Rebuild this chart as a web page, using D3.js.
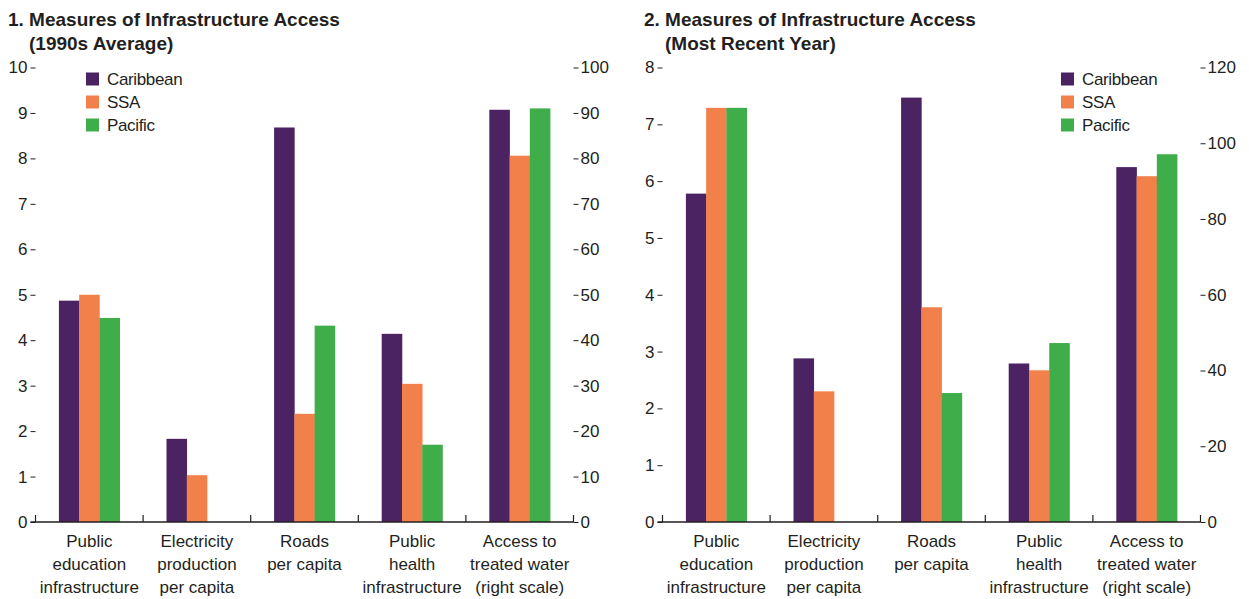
<!DOCTYPE html>
<html>
<head>
<meta charset="utf-8">
<script src="https://cdn.jsdelivr.net/npm/d3@7"></script>
<style>
  html, body { margin: 0; padding: 0; background: #ffffff; }
  svg { display: block; }
  text { font-family: "Liberation Sans", Arial, sans-serif; fill: #231f20; }
</style>
</head>
<body>
<svg id="chart" width="1249" height="599"></svg>
<script>
// ---------- DATA ----------
const categories = [
  ["Public", "education", "infrastructure"],
  ["Electricity", "production", "per capita"],
  ["Roads", "per capita"],
  ["Public", "health", "infrastructure"],
  ["Access to", "treated water", "(right scale)"]
];
const seriesNames = ["Caribbean", "SSA", "Pacific"];

// Panel 1: 1990s average (last category on right scale)
const p1Caribbean = [4.87, 1.83, 8.68, 4.14, 90.7];
const p1SSA       = [5.00, 1.03, 2.38, 3.04, 80.6];
const p1Pacific   = [4.49, null, 4.32, 1.70, 91.0];

// Panel 2: most recent year (last category on right scale)
const p2Caribbean = [5.78, 2.88, 7.47, 2.79, 93.7];
const p2SSA       = [7.29, 2.30, 3.78, 2.67, 91.3];
const p2Pacific   = [7.29, null, 2.27, 3.15, 97.1];

const p1LeftTicks  = [0,1,2,3,4,5,6,7,8,9,10];
const p1RightTicks = [0,10,20,30,40,50,60,70,80,90,100];
const p2LeftTicks  = [0,1,2,3,4,5,6,7,8];
const p2RightTicks = [0,20,40,60,80,100,120];

const p1Title = ["1. Measures of Infrastructure Access", "(1990s Average)"];
const p2Title = ["2. Measures of Infrastructure Access", "(Most Recent Year)"];

const colors = ["#4b2262", "#f2804a", "#3fae4a"];

// ---------- DRAW ----------
const svg = d3.select("#chart");

const panels = [
  { x0: 35.5, title: p1Title, titleX: 8, legendX: 86,
    series: [p1Caribbean, p1SSA, p1Pacific],
    leftMax: 10, rightMax: 100, leftTicks: p1LeftTicks, rightTicks: p1RightTicks },
  { x0: 662.5, title: p2Title, titleX: 644, legendX: 1061,
    series: [p2Caribbean, p2SSA, p2Pacific],
    leftMax: 8, rightMax: 120, leftTicks: p2LeftTicks, rightTicks: p2RightTicks }
];

const plotW = 538, yTop = 67.5, yBot = 522;

panels.forEach(p => {
  const g = svg.append("g");
  const x = d3.scaleBand().domain(d3.range(categories.length)).range([p.x0, p.x0 + plotW]).paddingInner(0).paddingOuter(0);
  const groupW = x.bandwidth() * 0.565;
  const x1 = d3.scaleBand().domain(d3.range(seriesNames.length)).range([0, groupW]).padding(0);
  const yL = d3.scaleLinear().domain([0, p.leftMax]).range([yBot, yTop]);
  const yR = d3.scaleLinear().domain([0, p.rightMax]).range([yBot, yTop]);
  const last = categories.length - 1;

  // title
  g.append("text").attr("x", p.titleX).attr("y", 25.5)
    .attr("font-size", 19).attr("font-weight", "bold").text(p.title[0]);
  g.append("text").attr("x", p.titleX + 21).attr("y", 49.5)
    .attr("font-size", 19).attr("font-weight", "bold").text(p.title[1]);

  // bars
  p.series.forEach((vals, si) => {
    vals.forEach((v, ci) => {
      if (v === null || v === undefined) return;
      const ys = ci === last ? yR : yL;
      const gx = x(ci) + (x.bandwidth() - groupW) / 2;
      g.append("rect")
        .attr("x", gx + x1(si))
        .attr("width", x1.bandwidth() + 0.3)
        .attr("y", ys(v))
        .attr("height", yBot - ys(v))
        .attr("fill", colors[si]);
    });
  });

  // left axis
  const la = d3.axisLeft(yL).tickValues(p.leftTicks).tickSize(5).tickPadding(3).tickFormat(d3.format("d"));
  const lg = g.append("g").attr("transform", `translate(${p.x0},0)`).call(la);
  lg.select(".domain").remove();
  lg.selectAll("line").attr("stroke", "#231f20").attr("stroke-width", 1);
  lg.selectAll("text").attr("font-size", 17).attr("font-family", "Liberation Sans, Arial, sans-serif").attr("fill", "#231f20");

  // right axis
  const ra = d3.axisRight(yR).tickValues(p.rightTicks).tickSize(5).tickPadding(2).tickFormat(d3.format("d"));
  const rg = g.append("g").attr("transform", `translate(${p.x0 + plotW},0)`).call(ra);
  rg.select(".domain").remove();
  rg.selectAll("line").attr("stroke", "#231f20").attr("stroke-width", 1);
  rg.selectAll("text").attr("font-size", 17).attr("font-family", "Liberation Sans, Arial, sans-serif").attr("fill", "#231f20");

  // x axis baseline
  g.append("line").attr("x1", p.x0 - 5).attr("x2", p.x0 + plotW)
    .attr("y1", yBot).attr("y2", yBot).attr("stroke", "#231f20").attr("stroke-width", 1.6);
  // category separator ticks (pointing up)
  d3.range(categories.length + 1).forEach(i => {
    const tx = i < categories.length ? x(i) : p.x0 + plotW;
    g.append("line").attr("x1", tx).attr("x2", tx).attr("y1", yBot).attr("y2", yBot - 7)
      .attr("stroke", "#231f20").attr("stroke-width", 1.2);
  });

  // category labels
  categories.forEach((lines, ci) => {
    const t = g.append("text").attr("text-anchor", "middle").attr("font-size", 17);
    lines.forEach((ln, li) => {
      t.append("tspan").attr("x", x(ci) + x.bandwidth() / 2).attr("y", 547 + li * 23).text(ln);
    });
  });

  // legend
  seriesNames.forEach((name, si) => {
    const ly = 72.5 + si * 23;
    g.append("rect").attr("x", p.legendX).attr("y", ly).attr("width", 13).attr("height", 13).attr("fill", colors[si]);
    g.append("text").attr("x", p.legendX + 21).attr("y", ly + 12.5).attr("font-size", 17)
      .attr("letter-spacing", -0.35).text(name);
  });
});
</script>
</body>
</html>
